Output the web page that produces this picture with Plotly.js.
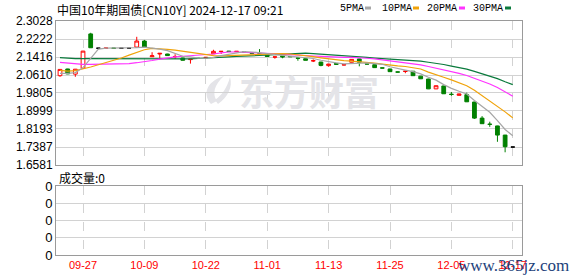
<!DOCTYPE html>
<html>
<head>
<meta charset="utf-8">
<script src="https://cdn.plot.ly/plotly-3.0.1.min.js"></script>
<style>
html,body{margin:0;padding:0;background:#fff;}
#chart{width:578px;height:276px;}
</style>
</head>
<body>
<div id="chart"></div>
<script>
// ---- data ----
const tickIdx = [3, 11, 19, 27, 35, 43, 51, 59];
const tickLabels = ["09-27", "10-09", "10-22", "11-01", "11-13", "11-25", "12-05", "12-17"];

const openV = [2.058,2.088,2.065,2.091,2.245,2.181,2.1805,2.1815,2.181,2.181,
  2.186,2.213,2.143,2.155,2.155,2.143,2.137,2.130,2.136,2.138,
  2.156,2.166,2.168,2.166,2.164,2.159,2.156,2.150,2.141,2.147,
  2.144,2.137,2.134,2.124,2.119,2.103,2.113,2.106,2.118,2.133,
  2.111,2.107,2.093,2.088,2.075,2.077,2.078,2.056,2.043,1.999,
  2.012,1.975,1.970,1.973,1.940,1.868,1.841,1.833,1.792,1.7386];
const highV = [2.087,2.089,2.088,2.169,2.250,2.181,2.1818,2.1818,2.181,2.181,
  2.232,2.218,2.163,2.159,2.156,2.154,2.138,2.133,2.138,2.142,
  2.174,2.168,2.169,2.168,2.165,2.160,2.177,2.151,2.143,2.148,
  2.145,2.140,2.135,2.131,2.120,2.110,2.114,2.110,2.132,2.134,
  2.111,2.108,2.093,2.089,2.076,2.079,2.079,2.057,2.044,2.014,
  2.013,1.985,1.977,1.982,1.941,1.877,1.852,1.834,1.793,1.7386];
const lowV = [2.053,2.065,2.053,2.090,2.182,2.181,2.1802,2.1802,2.181,2.181,
  2.185,2.185,2.142,2.131,2.147,2.133,2.126,2.112,2.133,2.136,
  2.155,2.155,2.165,2.165,2.162,2.157,2.153,2.144,2.134,2.136,
  2.142,2.125,2.127,2.119,2.100,2.098,2.108,2.104,2.117,2.100,
  2.109,2.093,2.091,2.075,2.073,2.069,2.057,2.043,1.998,1.998,
  1.976,1.968,1.969,1.940,1.864,1.842,1.829,1.762,1.715,1.7386];
const closeV = [2.086,2.066,2.087,2.168,2.183,2.181,2.1815,2.1805,2.181,2.181,
  2.213,2.186,2.147,2.158,2.148,2.144,2.127,2.132,2.135,2.140,
  2.167,2.167,2.166,2.167,2.163,2.158,2.154,2.144,2.142,2.142,
  2.143,2.136,2.127,2.125,2.104,2.110,2.109,2.107,2.131,2.118,
  2.110,2.094,2.092,2.076,2.074,2.078,2.058,2.044,1.999,2.013,
  1.977,1.974,1.976,1.941,1.868,1.843,1.840,1.792,1.740,1.7386];

const ma5 = [2.068,2.068,2.072,2.094,2.135,2.177,2.181,2.181,2.181,2.181,
  2.184,2.186,2.182,2.177,2.170,2.157,2.145,2.142,2.137,2.136,
  2.140,2.148,2.155,2.161,2.166,2.164,2.162,2.157,2.152,2.148,
  2.145,2.141,2.138,2.135,2.127,2.120,2.115,2.111,2.112,2.115,
  2.115,2.112,2.109,2.098,2.089,2.083,2.076,2.066,2.051,2.038,
  2.018,2.001,1.988,1.976,1.947,1.920,1.894,1.857,1.817,1.789];
const ma10 = [2.082,2.078,2.081,2.088,2.097,2.107,2.116,2.126,2.137,2.150,
  2.162,2.174,2.180,2.179,2.176,2.172,2.167,2.162,2.157,2.153,
  2.148,2.147,2.148,2.149,2.151,2.152,2.155,2.156,2.157,2.157,
  2.155,2.152,2.148,2.143,2.138,2.133,2.128,2.125,2.123,2.121,
  2.118,2.114,2.110,2.105,2.102,2.099,2.094,2.088,2.074,2.064,
  2.051,2.039,2.027,2.013,1.993,1.969,1.948,1.922,1.896,1.869];
const ma20 = [2.118,2.114,2.110,2.109,2.109,2.109,2.109,2.109,2.109,2.112,
  2.116,2.120,2.126,2.132,2.138,2.142,2.145,2.147,2.149,2.151,
  2.155,2.160,2.164,2.164,2.163,2.162,2.161,2.159,2.157,2.155,
  2.152,2.149,2.148,2.146,2.144,2.142,2.142,2.140,2.140,2.139,
  2.136,2.133,2.129,2.124,2.120,2.116,2.111,2.106,2.099,2.092,
  2.084,2.076,2.068,2.059,2.047,2.034,2.021,2.005,1.985,1.966];
const ma30 = [2.139,2.135,2.134,2.134,2.134,2.134,2.134,2.134,2.134,2.134,
  2.134,2.134,2.133,2.132,2.131,2.131,2.132,2.133,2.135,2.136,
  2.138,2.140,2.142,2.144,2.146,2.148,2.150,2.151,2.152,2.153,
  2.155,2.157,2.159,2.157,2.155,2.152,2.150,2.147,2.146,2.144,
  2.140,2.137,2.135,2.133,2.130,2.128,2.126,2.123,2.118,2.114,
  2.108,2.101,2.095,2.087,2.077,2.067,2.057,2.045,2.031,2.018];
const volume = new Array(60).fill(0);

const yTicks = [2.3028, 2.2222, 2.1416, 2.0610, 1.9805, 1.8999, 1.8193, 1.7387, 1.6581];
const volTicks = [0, 1, 2, 3, 4];
const volTickText = ["0", "0", "0", "0", "0"];

const titleText = "中国10年期国债[CN10Y] 2024-12-17 09:21";
const legendNames = ["5PMA", "10PMA", "20PMA", "30PMA"];
const maColors = ["#a6a6a6", "#f0a30a", "#ff33ff", "#0a7a3c"];

// ---- build traces ----
const idx = openV.map((_, i) => i);
const isDoji = i => openV[i] === closeV[i];
const normIdx = idx.filter(i => !isDoji(i));
const dojiIdx = idx.filter(i => isDoji(i));
const pick = (arr, list) => list.map(i => arr[i]);

const traces = [];
[[ma30, 3], [ma20, 2], [ma10, 1], [ma5, 0]].forEach(([m, k]) => {
  traces.push({type: "scatter", mode: "lines", x: idx, y: m, xaxis: "x", yaxis: "y",
    line: {color: maColors[k], width: 1.2}, hoverinfo: "skip", showlegend: false});
});
traces.push({
  type: "candlestick", x: normIdx,
  open: pick(openV, normIdx), high: pick(highV, normIdx), low: pick(lowV, normIdx), close: pick(closeV, normIdx),
  xaxis: "x", yaxis: "y", whiskerwidth: 0,
  increasing: {line: {color: "#ff0000", width: 1}, fillcolor: "#ffffff"},
  decreasing: {line: {color: "#008000", width: 1}, fillcolor: "#008000"},
  showlegend: false, hoverinfo: "skip"
});
traces.push({
  type: "candlestick", x: dojiIdx,
  open: pick(openV, dojiIdx), high: pick(highV, dojiIdx), low: pick(lowV, dojiIdx), close: pick(closeV, dojiIdx),
  xaxis: "x", yaxis: "y", whiskerwidth: 0,
  increasing: {line: {color: "#000000", width: 1}, fillcolor: "#000000"},
  decreasing: {line: {color: "#000000", width: 1}, fillcolor: "#000000"},
  showlegend: false, hoverinfo: "skip"
});
traces.push({type: "bar", x: idx, y: volume, xaxis: "x2", yaxis: "y2",
  marker: {color: "#008000"}, showlegend: false, hoverinfo: "skip"});

// ---- layout ----
const W = 578, H = 276;
const px = v => v / W, py = v => 1 - v / H;
const xRange = [-0.52, 60.2];
const monoFont = {family: "Liberation Mono, DejaVu Sans Mono, monospace", size: 10, color: "#000"};

const annotations = [
  {text: titleText, xref: "paper", yref: "paper", x: px(55), y: py(9), xanchor: "left", yanchor: "middle",
   showarrow: false, font: {family: "Noto Sans CJK SC", size: 12, color: "#000"}},
  {text: "成交量:0", xref: "paper", yref: "paper", x: px(57), y: py(177), xanchor: "left", yanchor: "middle",
   showarrow: false, font: {family: "Noto Sans CJK SC", size: 12, color: "#000"}},
  {text: "<b>东方财富</b>", xref: "paper", yref: "paper", x: px(308.5), y: py(90.5), xanchor: "center", yanchor: "middle",
   showarrow: false, font: {family: "Noto Sans CJK SC", size: 35, color: "#e4e4e8"}},
  {text: "www.365jz.com", xref: "paper", yref: "paper", x: px(513), y: py(265), xanchor: "center", yanchor: "middle",
   showarrow: false, font: {family: "Liberation Serif, DejaVu Serif, serif", size: 17, color: "#1d3f7a"}}
];
const legX = [338, 380, 425, 471];
const swX = [365, 413, 459, 505];
const shapes = [];
legendNames.forEach((n, k) => {
  annotations.push({text: n, xref: "paper", yref: "paper", x: px(legX[k]), y: py(8.5), xanchor: "left", yanchor: "middle",
    showarrow: false, font: monoFont});
  shapes.push({type: "rect", xref: "paper", yref: "paper", x0: px(swX[k]), x1: px(swX[k] + 6), y0: py(9.5), y1: py(6.5),
    fillcolor: maColors[k], line: {width: 0}});
});
// watermark logo (two swoosh blades), drawn below the grid
const pathOf = pts => pts.map(s => s.replace(/(-?\d+\.?\d*),(-?\d+\.?\d*)/g,
  (m, a, b) => px(+a).toFixed(5) + "," + py(+b).toFixed(5))).join(" ");
shapes.push({type: "path", layer: "below", xref: "paper", yref: "paper",
  path: pathOf(["M 211,104", "C 203,95 205,82 224,76", "C 214,85 212,94 217,101", "Z"]),
  fillcolor: "#e4e4e8", line: {width: 0}});
shapes.push({type: "path", layer: "below", xref: "paper", yref: "paper",
  path: pathOf(["M 218,104", "C 228,97 233,87 230,77", "C 227,88 222,95 215,100", "Z"]),
  fillcolor: "#e4e4e8", line: {width: 0}});

const gridC = "#d2d2d2";
const frameC = "#9a9a9a";
const layout = {
  width: W, height: H,
  margin: {l: 0, r: 0, t: 0, b: 0, pad: 0},
  paper_bgcolor: "#fff", plot_bgcolor: "rgba(0,0,0,0)",
  showlegend: false,
  xaxis: {domain: [px(56), px(522)], range: xRange, tickvals: tickIdx, showticklabels: false,
    showgrid: true, gridcolor: gridC, griddash: "dash", gridwidth: 1, zeroline: false,
    showline: true, linecolor: frameC, linewidth: 1, mirror: true, ticks: "",
    rangeslider: {visible: false}, fixedrange: true},
  yaxis: {domain: [py(165), py(21)], range: [yTicks[8], yTicks[0]], tickvals: yTicks,
    ticktext: yTicks.map(v => v.toFixed(4)), showgrid: true, gridcolor: gridC, zeroline: false,
    showline: true, linecolor: frameC, linewidth: 1, mirror: true, ticks: "",
    tickfont: {family: "Liberation Sans, Arial, sans-serif", size: 12, color: "#000"}, fixedrange: true},
  xaxis2: {domain: [px(56), px(522)], range: xRange, tickvals: tickIdx, ticktext: tickLabels, anchor: "y2",
    showgrid: true, gridcolor: gridC, griddash: "dash", zeroline: false,
    showline: true, linecolor: frameC, linewidth: 1, mirror: true, ticks: "",
    tickfont: {family: "Liberation Sans, Arial, sans-serif", size: 11, color: "#ff0000"}, fixedrange: true},
  yaxis2: {domain: [py(255), py(186)], range: [0, 4], tickvals: volTicks, ticktext: volTickText, anchor: "x2",
    showgrid: true, gridcolor: gridC, zeroline: false,
    showline: true, linecolor: frameC, linewidth: 1, mirror: true, ticks: "",
    tickfont: {family: "Liberation Sans, Arial, sans-serif", size: 13, color: "#000"}, fixedrange: true},
  annotations: annotations,
  shapes: shapes
};

Plotly.newPlot("chart", traces, layout, {staticPlot: true, displayModeBar: false});
</script>
</body>
</html>
